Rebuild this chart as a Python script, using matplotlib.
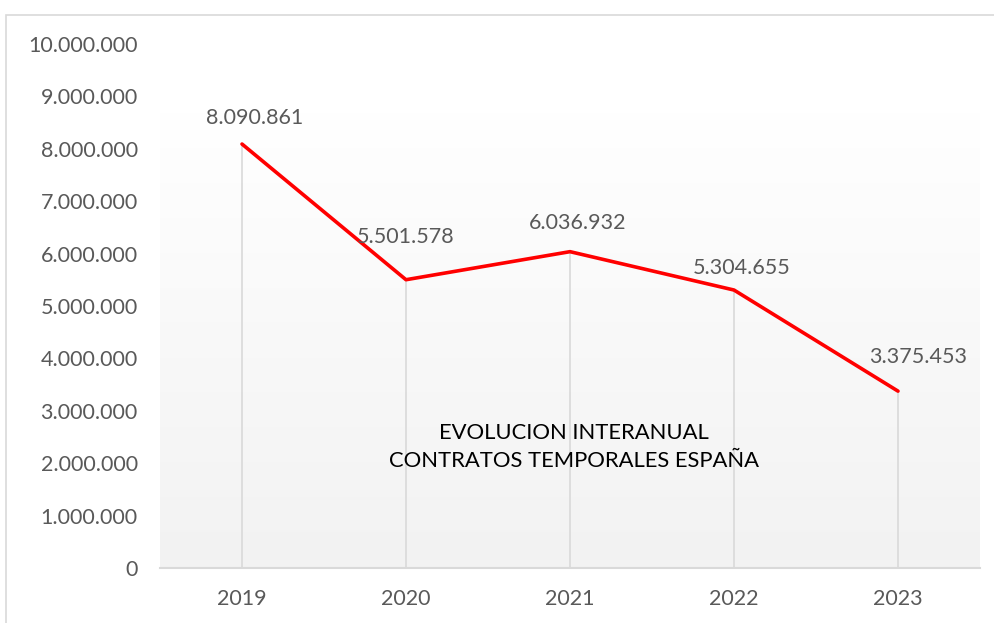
import matplotlib.pyplot as plt
import matplotlib.patches as mpatches
import numpy as np
from matplotlib.ticker import FuncFormatter

# datos
anios = ["2019", "2020", "2021", "2022", "2023"]
contratos = [8090861, 5501578, 6036932, 5304655, 3375453]
etiquetas = ["8.090.861", "5.501.578", "6.036.932", "5.304.655", "3.375.453"]

# desplazamiento de cada etiqueta (pixeles)
desp = [(13, 26), (0, 43), (8, 29), (8, 22), (20, 34)]

plt.rcParams["font.family"] = ["Lato", "DejaVu Sans"]

W, H = 995, 623
fig = plt.figure(figsize=(W / 100, H / 100), dpi=100)
fig.patch.set_facecolor("white")

# marco del grafico
fig.patches.append(
    mpatches.Rectangle((6 / W, -0.1), 1.2, 1 - 15 / H + 0.1, transform=fig.transFigure,
                       fill=False, edgecolor="#d9d9d9", linewidth=1.2)
)

ax = fig.add_axes([160 / W, 1 - 568 / H, 820 / W, (568 - 44) / H])
x = np.arange(len(anios))

# fondo degradado
grad = np.linspace(0, 1, 256).reshape(-1, 1)
cmap = plt.matplotlib.colors.LinearSegmentedColormap.from_list("g", ["#f2f2f2", "#ffffff"])
ax.imshow(grad, aspect="auto", cmap=cmap, origin="lower",
          extent=(-0.5, 4.5, 0, 8.7e6), zorder=0)

ax.vlines(x, 0, contratos, color="#d9d9d9", linewidth=1.2, zorder=1)
ax.plot(x, contratos, color="#ff0000", linewidth=2.6, zorder=3, solid_capstyle="round")

for i, (v, t) in enumerate(zip(contratos, etiquetas)):
    ax.annotate(t, (x[i], v), xytext=(desp[i][0] * 0.72, desp[i][1] * 0.72),
                textcoords="offset points", ha="center", va="center",
                fontsize=15.5, color="#595959")

ax.set_xlim(-0.5, 4.5)
ax.set_ylim(0, 10e6)
ax.set_yticks(np.arange(0, 10e6 + 1, 1e6))
ax.yaxis.set_major_formatter(FuncFormatter(lambda v, p: f"{int(v):,}".replace(",", ".")))
ax.set_xticks(x)
ax.set_xticklabels(anios)
ax.tick_params(axis="both", length=0, labelsize=15.5, labelcolor="#595959")
ax.tick_params(axis="y", pad=16)
ax.tick_params(axis="x", pad=15)

for s in ["top", "right", "left"]:
    ax.spines[s].set_visible(False)
ax.spines["bottom"].set_color("#d9d9d9")
ax.spines["bottom"].set_linewidth(1.5)
ax.set_facecolor("white")

ax.text(0.505, 0.231, "EVOLUCION INTERANUAL\nCONTRATOS TEMPORALES ESPAÑA",
        transform=ax.transAxes, ha="center", va="center", fontsize=15.8,
        color="black", linespacing=1.45)

plt.savefig("out.png", dpi=100)
